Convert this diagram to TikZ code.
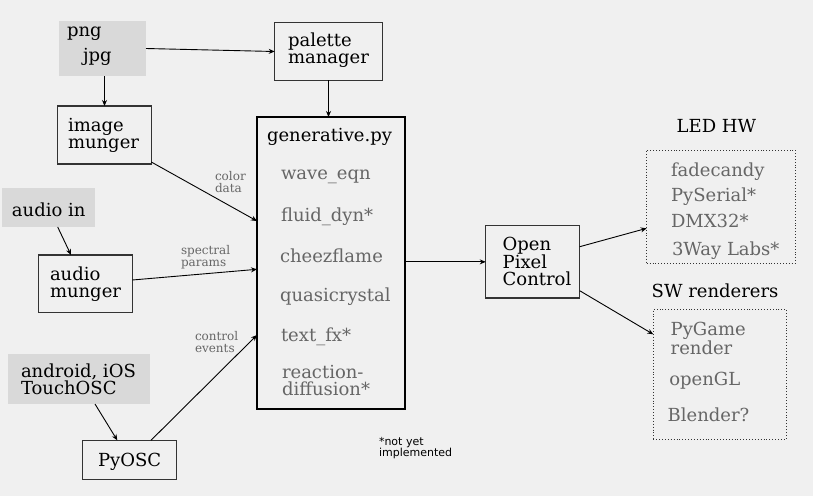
\documentclass[tikz,border=0pt]{standalone}
\usepackage{fontspec}
\setmainfont{DejaVu Serif}
\newfontfamily\notefont{DejaVu Sans}
\usetikzlibrary{fit,arrows.meta,calc}
\definecolor{bgc}{HTML}{F0F0F0}
\definecolor{srcc}{HTML}{D9D9D9}
\definecolor{itemc}{HTML}{666666}
\definecolor{edgec}{HTML}{333333}
\begin{document}
\begin{tikzpicture}[x=1pt,y=-1pt,
  every node/.style={inner sep=0pt, outer sep=0pt},
  srcbox/.style={fill=srcc, draw=none},
  procbox/.style={draw=edgec, line width=1.3pt},
  genbox/.style={draw=black, line width=2pt},
  outbox/.style={draw=edgec, line width=0.9pt, dotted},
  txt/.style={anchor=base west, align=left, font=\fontsize{18}{17}\selectfont, text=black},
  item/.style={txt, text=itemc},
  lab/.style={anchor=base west, align=left, font=\fontsize{12}{12}\selectfont, text=itemc},
  note/.style={anchor=base west, align=left, font=\notefont\fontsize{11}{11.7}\selectfont, text=black},
  conn/.style={draw=black, line width=0.9pt, -{Stealth[length=6pt,width=5pt]}},
]
\fill[bgc] (0,0) rectangle (813,496);
\useasboundingbox (0,0) rectangle (813,496);

% sources (multi-line text nodes are anchored at the baseline of their last line)
\node[srcbox, fit={(59,21) (146,76)}] (png) {};
\node[txt] (pngt) at (67,61) {png\\[6pt]\hspace*{16pt}jpg};
\node[srcbox, fit={(2,188) (95,227)}] (ain) {};
\node[txt] (aint) at (12,216) {audio in};
\node[srcbox, fit={(8,354) (150,404)}] (tosc) {};
\node[txt] (tosct) at (21,394) {android, iOS\\TouchOSC};

% processing boxes
\node[procbox, fit={(274.7,22.7) (382.3,80.3)}] (pal) {};
\node[txt] (palt) at (288,63.5) {palette\\manager};
\node[procbox, fit={(57.7,106) (151.3,164)}] (img) {};
\node[txt] (imgt) at (68,148.5) {image\\munger};
\node[procbox, fit={(38.3,255) (132.3,312.7)}] (amg) {};
\node[txt] (amgt) at (50,297.5) {audio\\munger};
\node[procbox, fit={(82.7,440.3) (176.7,479.7)}] (pyosc) {};
\node[txt] (pyosct) at (98,466.7) {PyOSC};
\node[procbox, fit={(485.7,225.7) (579.7,298)}] (opc) {};
\node[txt] (opct) at (502.7,285.5) {Open\\Pixel\\Control};

% generative
\node[genbox, fit={(257,117) (404.7,408.5)}] (gen) {};
\node[txt] (gent) at (267,141) {generative.py};
\node[item] (g1) at (281,179) {wave\_eqn};
\node[item] (g2) at (281,221.5) {fluid\_dyn*};
\node[item] (g3) at (280,262.7) {cheezflame};
\node[item] (g4) at (280,301) {quasicrystal};
\node[item] (g5) at (281,341.7) {text\_fx*};
\node[item] (g6) at (282,395) {reaction-\\diffusion*};

% outputs
\node[txt] (ledt) at (676.7,132.7) {LED HW};
\node[outbox, fit={(646.7,150) (795.3,263.3)}] (led) {};
\node[item] (l1) at (671,176.7) {fadecandy};
\node[item] (l2) at (671,201.7) {PySerial*};
\node[item] (l3) at (671,227.3) {DMX32*};
\node[item] (l4) at (672,255) {3Way Labs*};

\node[txt] (swt) at (651.7,297.3) {SW renderers};
\node[outbox, fit={(653.3,309) (786,439.3)}] (sw) {};
\node[item] (s1) at (670.7,354) {PyGame\\render};
\node[item] (s2) at (669.3,385) {openGL};
\node[item] (s3) at (667.7,421.7) {Blender?};

% labels
\node[lab] (lcol) at (215,192) {color\\data};
\node[lab] (lspec) at (181,266) {spectral\\params};
\node[lab] (lctl) at (195,352.7) {control\\events};
\node[note] (nimpl) at (379,456.7) {*not yet\\implemented};

% connectors
\draw[conn] (png.east) -- (pal.west);
\draw[conn] (png.south -| img.north) -- (img.north);
\draw[conn] (pal.south) -- (pal.south |- gen.north);
\draw[conn] ([yshift=2pt]img.south east) -- ([yshift=-104pt]gen.north west);
\draw[conn] ([xshift=55.7pt]ain.south west) -- ([xshift=32.7pt]amg.north west);
\draw[conn] ([yshift=-25pt]amg.north east) -- ([yshift=-152.3pt]gen.north west);
\draw[conn] ([xshift=87pt]tosc.south west) -- ([xshift=34.6pt]pyosc.north west);
\draw[conn] ([xshift=68.3pt]pyosc.north west) -- ([yshift=-218pt]gen.north west);
\draw[conn] (gen.east |- opc.west) -- (opc.west);
\draw[conn] ([yshift=-21pt]opc.north east) -- ([yshift=-78.3pt]led.north west);
\draw[conn] ([yshift=7.3pt]opc.south east) -- ([yshift=-25.3pt]sw.north west);
\end{tikzpicture}
\end{document}
